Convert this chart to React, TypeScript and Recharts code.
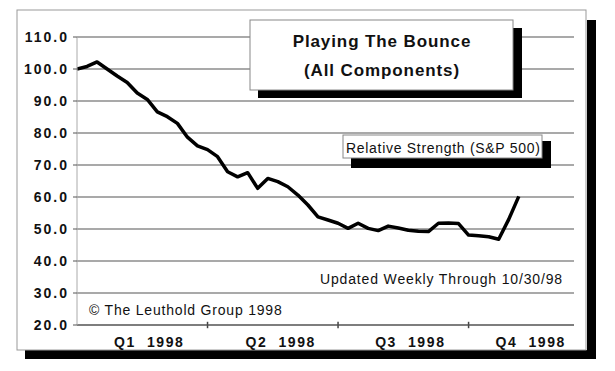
import React from 'react';
import { LineChart, Line, XAxis, YAxis, CartesianGrid, ReferenceLine, Customized } from 'recharts';

const weekDates = [
  '12/26/97', '1/2/98', '1/9/98', '1/16/98', '1/23/98', '1/30/98', '2/6/98', '2/13/98', '2/20/98', '2/27/98',
  '3/6/98', '3/13/98', '3/20/98', '3/27/98', '4/3/98', '4/10/98', '4/17/98', '4/24/98', '5/1/98', '5/8/98',
  '5/15/98', '5/22/98', '5/29/98', '6/5/98', '6/12/98', '6/19/98', '6/26/98', '7/3/98', '7/10/98', '7/17/98',
  '7/24/98', '7/31/98', '8/7/98', '8/14/98', '8/21/98', '8/28/98', '9/4/98', '9/11/98', '9/18/98', '9/25/98',
  '10/2/98', '10/9/98', '10/16/98', '10/23/98', '10/30/98',
];

const relativeStrength = [
  100.0, 100.8, 102.2, 100.0, 97.8, 95.8, 92.5, 90.5, 86.6, 85.1,
  83.0, 78.7, 76.0, 74.8, 72.6, 67.9, 66.3, 67.6, 62.7, 65.8,
  64.8, 63.2, 60.6, 57.5, 53.8, 52.8, 51.8, 50.2, 51.8, 50.2,
  49.5, 50.9, 50.3, 49.6, 49.3, 49.2, 51.8, 51.9, 51.7, 48.1,
  47.9, 47.6, 46.8, 53.0, 60.2,
];

const yTicks = [20, 30, 40, 50, 60, 70, 80, 90, 100, 110];
const quarterLabels = ['Q1\u00A0\u00A01998', 'Q2\u00A0\u00A01998', 'Q3\u00A0\u00A01998', 'Q4\u00A0\u00A01998'];
const quarterLabelPos = [7.2, 20.3, 33.2, 45.2];
const quarterBounds = [13, 26, 39];

const titleLines = ['Playing The Bounce', '(All Components)'];
const legendText = 'Relative Strength (S&P 500)';
const updatedText = 'Updated Weekly Through 10/30/98';
const copyrightText = '\u00A9 The Leuthold Group 1998';

const data = weekDates.map((d, i) => ({ w: i, date: d, rs: relativeStrength[i] }));

const FONT = '"Liberation Sans", Arial, Helvetica, sans-serif';

const Decorations = () => (
  <g>
    {/* outer frame and shadow */}
    <rect x={587} y={20} width={9} height={339} fill="#000" />
    <rect x={25} y={350} width={571} height={9} fill="#000" />
    <rect x={17} y={10} width={569} height={340} fill="none" stroke="#999" strokeWidth={1} />
    {/* title box */}
    <rect x={258} y={28} width={264} height={70} fill="#000" />
    <rect x={250} y={20} width={263} height={70} fill="#fff" stroke="#888" strokeWidth={1} />
    <text x={382} y={47} textAnchor="middle" fontFamily={FONT} fontWeight="bold" fontSize={17} letterSpacing={0.9} fill="#111">{titleLines[0]}</text>
    <text x={382} y={76} textAnchor="middle" fontFamily={FONT} fontWeight="bold" fontSize={17} letterSpacing={0.9} fill="#111">{titleLines[1]}</text>
    {/* legend box */}
    <rect x={351} y={141} width={200} height={27} fill="#000" />
    <rect x={343} y={135} width={199} height={23} fill="#fff" stroke="#888" strokeWidth={1} />
    <text x={346} y={153} fontFamily={FONT} fontSize={14} letterSpacing={0.7} fill="#111">{legendText}</text>
    {/* notes */}
    <text x={320} y={284} fontFamily={FONT} fontSize={14} letterSpacing={0.85} fill="#111">{updatedText}</text>
    <text x={89} y={315} fontFamily={FONT} fontSize={14} letterSpacing={0.8} fill="#111">{copyrightText}</text>
  </g>
);

export default function App() {
  return (
    <div style={{ position: 'absolute', left: 0, top: 0, width: 615, height: 371, background: '#fff' }}>
      <LineChart width={615} height={371} data={data} margin={{ top: 37, right: 41, left: 0, bottom: 16 }}>
        <CartesianGrid horizontal vertical={false} stroke="#555" strokeWidth={1.2} />
        <XAxis
          dataKey="w"
          type="number"
          domain={[0, 49.5]}
          ticks={quarterLabelPos}
          tickFormatter={(v: number) => quarterLabels[quarterLabelPos.indexOf(v)] ?? ''}
          tickLine={false}
          tickSize={0}
          tickMargin={12}
          height={30}
          axisLine={{ stroke: '#555', strokeWidth: 1.2 }}
          tick={{ fontFamily: FONT, fontSize: 14, fontWeight: 'bold', fill: '#111', letterSpacing: 1.6 }}
          allowDataOverflow
        />
        <YAxis
          domain={[20, 110]}
          ticks={yTicks}
          tickFormatter={(v: number) => v.toFixed(1)}
          width={77}
          tickSize={4}
          tickMargin={4}
          tickLine={{ stroke: '#555' }}
          axisLine={{ stroke: '#aaa' }}
          tick={{ fontFamily: FONT, fontSize: 14, fontWeight: 'bold', fill: '#111', letterSpacing: 2 }}
          interval={0}
        />
        {quarterBounds.map((q) => (
          <ReferenceLine
            key={q}
            segment={[{ x: q, y: 19 }, { x: q, y: 21 }]}
            stroke="#444"
            strokeWidth={1.5}
            ifOverflow="visible"
          />
        ))}
        <Line
          type="linear"
          dataKey="rs"
          stroke="#000"
          strokeWidth={3.5}
          dot={false}
          isAnimationActive={false}
          strokeLinejoin="round"
        />
        <Customized component={Decorations} />
      </LineChart>
    </div>
  );
}
